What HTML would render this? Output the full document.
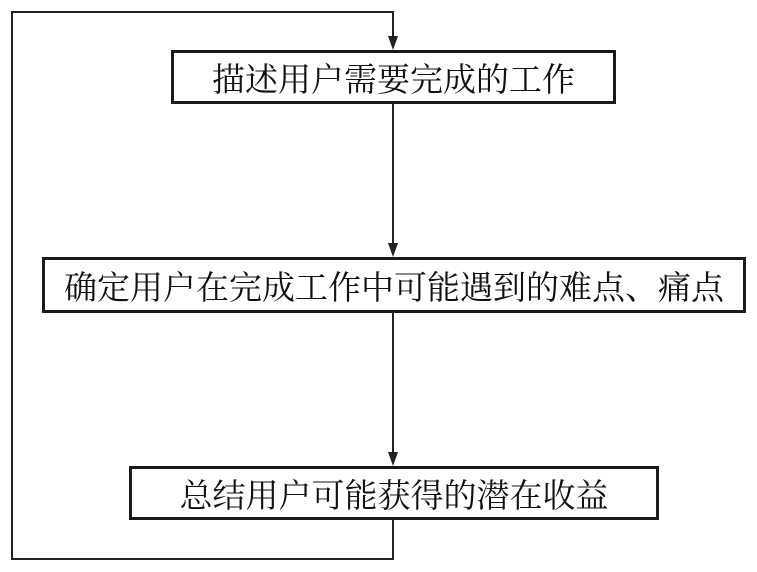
<!DOCTYPE html>
<html><head><meta charset="utf-8"><style>
html,body{margin:0;padding:0;background:#fff;}
body{width:757px;height:572px;position:relative;overflow:hidden;}
.b{position:absolute;border:3px solid #1a1a1a;box-sizing:border-box;display:flex;align-items:center;justify-content:center;font-family:"Liberation Serif","Noto Serif CJK SC",serif;font-size:33px;color:#111;background:#fff;white-space:nowrap;}
</style></head><body>
<svg width="757" height="572" style="position:absolute;left:0;top:0">
<g stroke="#222" stroke-width="2" fill="none">
<polyline points="393,518 393,559 12,559 12,12 393,12 393,40"/>
<line x1="393" y1="104" x2="393" y2="248"/>
<line x1="393" y1="313" x2="393" y2="457"/>
</g>
<g fill="#222">
<polygon points="388,36 398,36 393,50"/>
<polygon points="388,243 398,243 393,257"/>
<polygon points="388,452 398,452 393,466"/>
</g>
</svg>
<div class="b" style="left:171px;top:50px;width:445px;height:54px;">描述用户需要完成的工作</div>
<div class="b" style="left:42px;top:257px;width:704px;height:56px;">确定用户在完成工作中可能遇到的难点、痛点</div>
<div class="b" style="left:129px;top:466px;width:530px;height:54px;">总结用户可能获得的潜在收益</div>
</body></html>
